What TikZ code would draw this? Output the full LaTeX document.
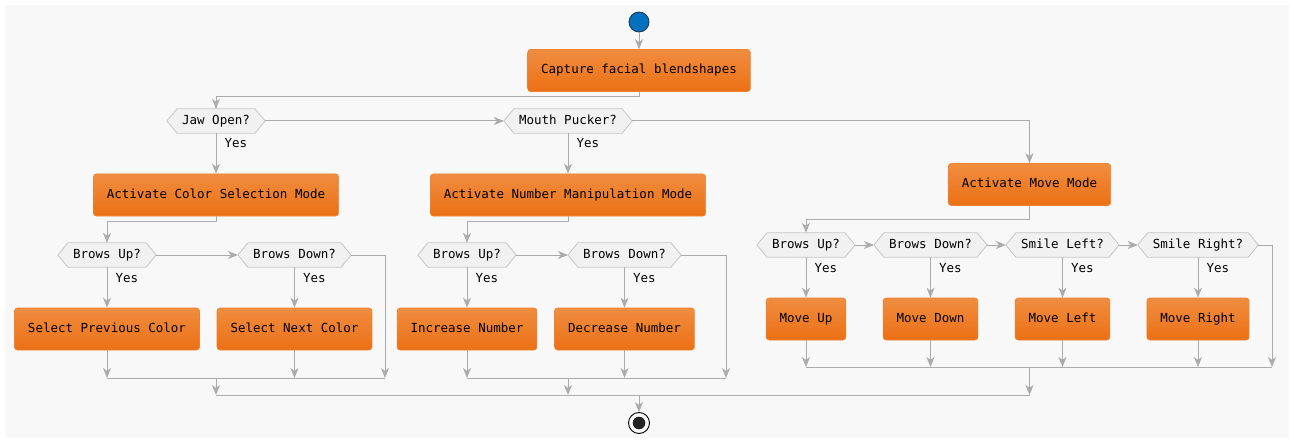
\documentclass[tikz,border=0pt]{standalone}
\usepackage{fontspec}
\setmonofont{DejaVu Sans Mono}
\usetikzlibrary{arrows.meta,calc,backgrounds}
\definecolor{bgc}{HTML}{F8F8F8}
\definecolor{linec}{HTML}{ABABAB}
\definecolor{hexfill}{HTML}{F1F1F1}
\definecolor{hexdraw}{HTML}{C6C6C6}
\definecolor{otop}{HTML}{F08D40}
\definecolor{obot}{HTML}{EC7014}
\definecolor{odraw}{HTML}{EE8232}
\definecolor{startc}{HTML}{0070BF}
\definecolor{startd}{HTML}{1C3550}
\definecolor{endc}{HTML}{222222}
\tikzset{
  every node/.style={font=\fontsize{12.5}{15}\selectfont\ttfamily, text=black},
  actbox/.style={rectangle, rounded corners=3pt, top color=otop, bottom color=obot,
    draw=odraw, line width=0.6pt, minimum height=42pt, inner xsep=13.5pt, inner ysep=0pt,
    text height=9pt, text depth=2.5pt},
  hexn/.style={rectangle, minimum height=24pt, inner xsep=5pt, inner ysep=0pt,
    text height=9pt, text depth=2.5pt},
  hexpath/.style={fill=hexfill, draw=hexdraw, line width=0.8pt},
  conn/.style={draw=linec, line width=1pt},
  flow/.style={conn, -{Stealth[length=10pt,width=8pt,inset=3pt]}},
  yeslbl/.style={anchor=west, inner sep=0pt, text height=9pt, text depth=2.5pt},
  startdot/.style={circle, fill=startc, draw=startd, line width=0.8pt, minimum size=20pt, inner sep=0pt},
  enddot/.style={circle, fill=bgc, draw=black, line width=0.9pt, minimum size=21pt, inner sep=0pt,
    path picture={\fill[endc] (path picture bounding box.center) circle (6.3pt);}},
}
\newcommand\hexdec[4]{%
  \node[hexn] (#1) at (#2,#3) {#4};
  \coordinate (#1-l) at ($(#1.west)+(-10,0)$);
  \coordinate (#1-r) at ($(#1.east)+(10,0)$);
  \begin{scope}[on background layer]
    \path[hexpath] (#1-l) -- (#1.north west) -- (#1.north east) -- (#1-r)
      -- (#1.south east) -- (#1.south west) -- cycle;
  \end{scope}}
\begin{document}
\begin{tikzpicture}[x=1pt,y=-1pt]
\begin{scope}[on background layer]
  \fill[white] (0,0) rectangle (1294,441);
  \fill[bgc] (5,5) rectangle (1289,438);
\end{scope}
\useasboundingbox (0,0) rectangle (1294,441);

% nodes
\node[startdot] (start) at (639,22) {};
\node[actbox] (cap) at (639,70.5) {Capture facial blendshapes};
\hexdec{jaw}{216}{121}{Jaw Open?}
\hexdec{mouth}{568}{121}{Mouth Pucker?}
\node[actbox] (color) at (216,195) {Activate Color Selection Mode};
\node[actbox] (num) at (568,195) {Activate Number Manipulation Mode};
\node[actbox] (move) at (1029.5,184.5) {Activate Move Mode};

\hexdec{bua}{107}{255}{Brows Up?}
\hexdec{bda}{294.5}{255}{Brows Down?}
\node[actbox] (spc) at (107,329) {Select Previous Color};
\node[actbox] (snc) at (294.5,329) {Select Next Color};

\hexdec{bub}{467}{255}{Brows Up?}
\hexdec{bdb}{624.5}{255}{Brows Down?}
\node[actbox] (inc) at (467,329) {Increase Number};
\node[actbox] (dec) at (624.5,329) {Decrease Number};

\hexdec{buc}{806}{245}{Brows Up?}
\hexdec{bdc}{930.5}{245}{Brows Down?}
\hexdec{sl}{1062.5}{245}{Smile Left?}
\hexdec{sr}{1198}{245}{Smile Right?}
\node[actbox] (mu) at (806,319) {Move Up};
\node[actbox] (md) at (930.5,319) {Move Down};
\node[actbox] (ml) at (1062.5,319) {Move Left};
\node[actbox] (mr) at (1198,319) {Move Right};

\node[enddot] (end) at (639,423) {};

% merge coordinates
\coordinate (ma) at (385,378);
\coordinate (ja) at (216,378);
\coordinate (fa) at (216,395);
\coordinate (mb) at (726,378);
\coordinate (jb) at (568,378);
\coordinate (fb) at (568,395);
\coordinate (mc) at (1272,367);
\coordinate (jc) at (1029.5,367);
\coordinate (fc) at (1029.5,395);
\coordinate (f0) at (639,395);

% connectors
\draw[flow] (start.south) -- (cap.north);
\draw[flow] (cap.south) -- ++(0,5) -| (jaw.north);
\draw[flow] (jaw-r) -- (mouth-l);
\draw[flow] (mouth-r) -| (move.north);
\draw[flow] (jaw.south) -- node[yeslbl, pos=0.28, xshift=8pt] {Yes} (color.north);
\draw[flow] (mouth.south) -- node[yeslbl, pos=0.28, xshift=8pt] {Yes} (num.north);

% left column
\draw[flow] (color.south) -- ++(0,5) -| (bua.north);
\draw[flow] (bua-r) -- (bda-l);
\draw[flow] (bua.south) -- node[yeslbl, pos=0.3, xshift=8pt] {Yes} (spc.north);
\draw[flow] (bda.south) -- node[yeslbl, pos=0.3, xshift=8pt] {Yes} (snc.north);
\draw[flow] (bda-r) -| (ma);
\draw[flow] (spc.south) -- (spc.south |- ma);
\draw[flow] (snc.south) -- (snc.south |- ma);
\draw[conn] (spc.south |- ma) -- (ma);
\draw[flow] (ja) -- (fa);

% middle column
\draw[flow] (num.south) -- ++(0,5) -| (bub.north);
\draw[flow] (bub-r) -- (bdb-l);
\draw[flow] (bub.south) -- node[yeslbl, pos=0.3, xshift=8pt] {Yes} (inc.north);
\draw[flow] (bdb.south) -- node[yeslbl, pos=0.3, xshift=8pt] {Yes} (dec.north);
\draw[flow] (bdb-r) -| (mb);
\draw[flow] (inc.south) -- (inc.south |- mb);
\draw[flow] (dec.south) -- (dec.south |- mb);
\draw[conn] (inc.south |- mb) -- (mb);
\draw[flow] (jb) -- (fb);

% right column
\draw[flow] (move.south) -- ++(0,14) -| (buc.north);
\draw[flow] (buc-r) -- (bdc-l);
\draw[flow] (bdc-r) -- (sl-l);
\draw[flow] (sl-r) -- (sr-l);
\draw[flow] (buc.south) -- node[yeslbl, pos=0.3, xshift=8pt] {Yes} (mu.north);
\draw[flow] (bdc.south) -- node[yeslbl, pos=0.3, xshift=8pt] {Yes} (md.north);
\draw[flow] (sl.south) -- node[yeslbl, pos=0.3, xshift=8pt] {Yes} (ml.north);
\draw[flow] (sr.south) -- node[yeslbl, pos=0.3, xshift=8pt] {Yes} (mr.north);
\draw[flow] (sr-r) -| (mc);
\draw[flow] (mu.south) -- (mu.south |- mc);
\draw[flow] (md.south) -- (md.south |- mc);
\draw[flow] (ml.south) -- (ml.south |- mc);
\draw[flow] (mr.south) -- (mr.south |- mc);
\draw[conn] (mu.south |- mc) -- (mc);
\draw[flow] (jc) -- (fc);

% final merge
\draw[conn] (fa) -- (fc);
\draw[flow] (f0) -- (end.north);
\end{tikzpicture}
\end{document}
